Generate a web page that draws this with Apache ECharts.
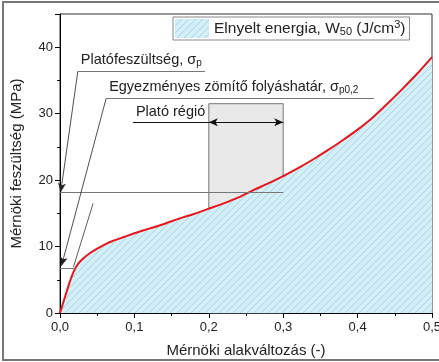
<!DOCTYPE html>
<html>
<head>
<meta charset="utf-8">
<script src="https://cdn.jsdelivr.net/npm/echarts@6/dist/echarts.min.js"></script>
<style>
html, body { margin: 0; padding: 0; background: #fff; }
#main { width: 439px; height: 362px; }
</style>
</head>
<body>
<div id="main"></div>
<script>
// mért görbe (leolvasott pontok)
var strain = [0, 0.005, 0.01, 0.015, 0.02, 0.025, 0.03, 0.04, 0.05, 0.06, 0.07, 0.08, 0.09, 0.10,
    0.12, 0.14, 0.16, 0.18, 0.20, 0.22, 0.24, 0.26, 0.28, 0.30, 0.32, 0.34, 0.36, 0.38, 0.40,
    0.42, 0.44, 0.46, 0.48, 0.50];
var stress = [0, 1.8, 3.6, 5.3, 6.6, 7.5, 8.1, 9.0, 9.7, 10.3, 10.8, 11.2, 11.6, 12.0,
    12.7, 13.4, 14.2, 14.9, 15.7, 16.5, 17.4, 18.5, 19.5, 20.6, 21.8, 23.1, 24.5, 26.0, 27.6,
    29.4, 31.5, 33.7, 36.0, 38.5];

// jelölések
var plateauRange = [0.2, 0.3];
var plateauTop = 31.5;
var plateauArrowY = 28.7;
var plateauLabelX = 0.098;
var sigmaP = 18.2;
var sigmaP02 = 6.8;
var sigmaP02Strain = 0.02;
var offsetLine = [[0.018, 6.9], [0.0445, 16.5]];
var platoLabel = [[0.024, 36.4], [0.195, 36.4]];
var yieldLabel = [[0.062, 32.3], [0.422, 32.3]];

var curve = strain.map(function (x, i) { return [x, stress[i]]; });

function hatch() {
    var c = document.createElement('canvas');
    c.width = c.height = 7;
    var g = c.getContext('2d');
    g.fillStyle = '#d3f0f9';
    g.fillRect(0, 0, 7, 7);
    g.strokeStyle = '#a6cbd6';
    g.lineWidth = 0.8;
    g.beginPath();
    g.moveTo(0, 7); g.lineTo(7, 0);
    g.moveTo(-1, 1); g.lineTo(1, -1);
    g.moveTo(6, 8); g.lineTo(8, 6);
    g.stroke();
    return c;
}
var pattern = { image: hatch(), repeat: 'repeat' };

var rich = {
    a: { fontFamily: 'Liberation Sans', fontSize: 14.5, color: '#222' },
    sub: { fontFamily: 'Liberation Sans', fontSize: 10, color: '#222', padding: [7, 0, 0, 0] },
    sup: { fontFamily: 'Liberation Sans', fontSize: 10, color: '#222', padding: [0, 0, 8, 0] }
};
var legendRich = {
    a: { fontFamily: 'Liberation Sans', fontSize: 15.5, color: '#222' },
    sub: { fontFamily: 'Liberation Sans', fontSize: 11, color: '#222', padding: [7, 0, 0, 0] },
    sup: { fontFamily: 'Liberation Sans', fontSize: 11, color: '#222', padding: [0, 0, 8, 0] }
};

var myChart = echarts.init(document.getElementById('main'));

var option = {
    animation: false,
    backgroundColor: '#fff',
    graphic: [{
        type: 'rect',
        shape: { x: 3, y: 2, width: 470, height: 358 },
        style: { fill: 'none', stroke: '#777', lineWidth: 2 },
        z: 100
    }],
    grid: {
        left: 60, right: 7, top: 14, bottom: 49,
        outerBoundsMode: 'none',
        show: true, borderColor: '#333', borderWidth: 1
    },
    legend: {
        left: 173, top: 17,
        data: [{ name: 'W50', icon: 'rect', itemStyle: { color: pattern, borderWidth: 0 } }],
        itemWidth: 34, itemHeight: 19, itemGap: 5,
        backgroundColor: '#fff', borderColor: '#888', borderWidth: 1, borderRadius: 0,
        padding: [2, 4, 2, 2],
        formatter: function () {
            return '{a|Elnyelt energia, W}{sub|50}{a| (J/cm}{sup|3}{a|)}';
        },
        textStyle: { rich: legendRich }
    },
    xAxis: {
        type: 'value', min: 0, max: 0.5, interval: 0.1,
        name: 'Mérnöki alakváltozás (-)', nameLocation: 'middle', nameGap: 30,
        nameTextStyle: { fontFamily: 'Liberation Sans', fontSize: 15, color: '#222' },
        axisLine: { show: true, lineStyle: { color: '#000', width: 1 } },
        axisTick: { show: true, inside: false, length: 5, lineStyle: { color: '#000' } },
        minorTick: { show: true, splitNumber: 2, length: 3, lineStyle: { color: '#000' } },
        splitLine: { show: false },
        axisLabel: {
            fontFamily: 'Liberation Sans', fontSize: 13, color: '#222', margin: 8,
            formatter: function (v) { return v.toFixed(1).replace('.', ','); }
        }
    },
    yAxis: {
        type: 'value', min: 0, max: 45, interval: 10,
        name: 'Mérnöki feszültség (MPa)', nameLocation: 'middle', nameGap: 36,
        nameTextStyle: { fontFamily: 'Liberation Sans', fontSize: 15, color: '#222' },
        axisLine: { show: true, lineStyle: { color: '#000', width: 1 } },
        axisTick: { show: true, inside: false, length: 5, lineStyle: { color: '#000' } },
        minorTick: { show: true, splitNumber: 2, length: 3, lineStyle: { color: '#000' } },
        splitLine: { show: false },
        axisLabel: {
            fontFamily: 'Liberation Sans', fontSize: 13, color: '#222', margin: 7,
            formatter: function (v) { return v % 10 === 0 ? String(v) : ''; }
        }
    },
    series: [{
        name: 'W50',
        type: 'line',
        data: curve,
        showSymbol: false,
        lineStyle: { width: 0 },
        areaStyle: { color: pattern, opacity: 1 },
        z: 1
    }, {
        name: 'plato',
        type: 'line',
        data: [],
        z: 2,
        markArea: {
            silent: true,
            itemStyle: { color: 'rgba(140,140,140,0.19)', borderColor: '#777', borderWidth: 1 },
            data: [[{ coord: [plateauRange[0], 0] }, { coord: [plateauRange[1], plateauTop] }]]
        }
    }, {
        name: 'curve',
        type: 'line',
        data: curve,
        showSymbol: false,
        smooth: 0.3,
        lineStyle: { color: '#e8161c', width: 2 },
        z: 4
    }, {
        name: 'annot',
        type: 'line',
        data: [],
        z: 3,
        markLine: {
            silent: true,
            symbol: ['none', 'none'],
            symbolSize: [6, 9],
            label: { show: false },
            lineStyle: { type: 'solid', color: '#777', width: 1 },
            data: [
                [{ coord: [0, sigmaP] }, { coord: [plateauRange[1], sigmaP] }],
                [{ coord: [0, sigmaP02] }, { coord: [sigmaP02Strain, sigmaP02] }],
                [{ coord: offsetLine[0], lineStyle: { color: '#333', width: 0.8 } },
                 { coord: offsetLine[1] }],
                [{ coord: platoLabel[0], lineStyle: { color: '#222', width: 0.8 } },
                 { coord: [0.001, sigmaP], symbol: 'arrow' }],
                [{ coord: yieldLabel[0], lineStyle: { color: '#222', width: 0.8 } },
                 { coord: [0.002, sigmaP02 + 0.3], symbol: 'arrow' }],
                [{ coord: platoLabel[0], label: { show: true, position: 'insideStartTop', distance: 3, formatter: '{a|Platófeszültség, σ}{sub|p}', rich: rich } },
                 { coord: platoLabel[1] }],
                [{ coord: yieldLabel[0], label: { show: true, position: 'insideStartTop', distance: 3, formatter: '{a|Egyezményes zömítő folyáshatár, σ}{sub|p0,2}', rich: rich } },
                 { coord: yieldLabel[1] }],
                [{ coord: [plateauLabelX, plateauArrowY], lineStyle: { color: '#111' }, label: { show: true, position: 'insideStartTop', distance: 3, formatter: '{a|Plató régió}', rich: rich } },
                 { coord: [plateauRange[0], plateauArrowY] }],
                [{ coord: [plateauRange[0], plateauArrowY], symbol: 'arrow', lineStyle: { color: '#111' } },
                 { coord: [plateauRange[1], plateauArrowY], symbol: 'arrow' }]
            ]
        }
    }]
};

myChart.setOption(option);
</script>
</body>
</html>
